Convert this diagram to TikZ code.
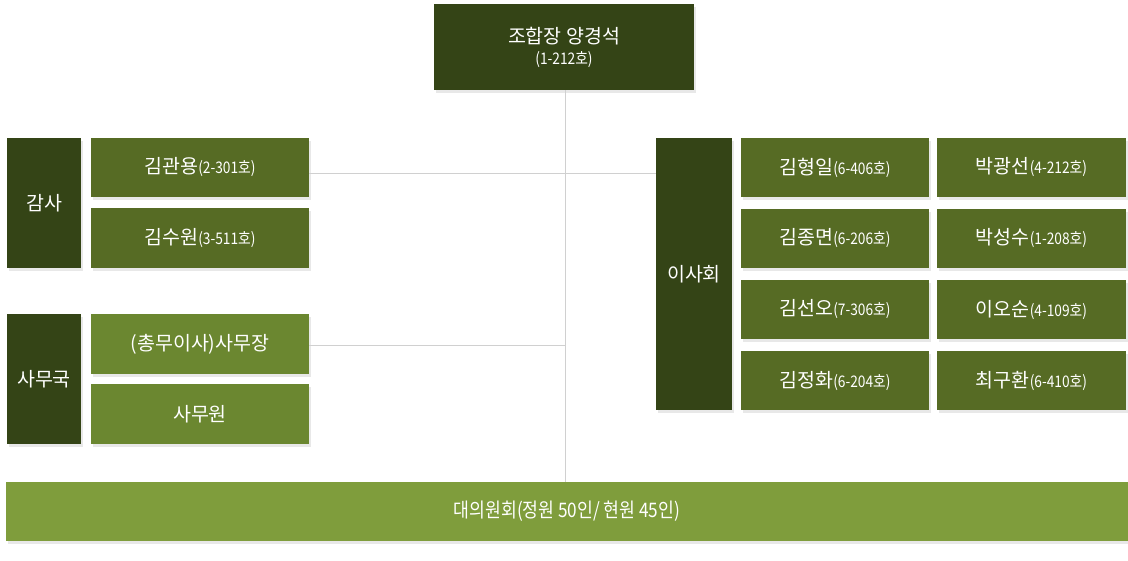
\documentclass[tikz,border=0pt]{standalone}
\usepackage{fontspec}
\setmainfont{Noto Sans CJK KR}
\newfontfamily\condfont[FakeStretch=0.86]{Noto Sans CJK KR}
\usetikzlibrary{shadows}
\definecolor{darkol}{HTML}{344416}
\definecolor{midol}{HTML}{566B24}
\definecolor{lightol}{HTML}{6B8730}
\definecolor{barol}{HTML}{7F9D3C}
\definecolor{linegray}{HTML}{D0D0D0}
\tikzset{
  bx/.style={rectangle, inner sep=0pt, text=white, font=\fontsize{19.5}{23}\selectfont,
    drop shadow={opacity=0.18, shadow xshift=2pt, shadow yshift=-3pt}, align=center},
  darkbox/.style={bx, fill=darkol},
  midbox/.style={bx, fill=midol},
  lightbox/.style={bx, fill=lightol},
  conn/.style={draw=linegray, line width=0.8pt},
}
\newcommand{\rn}[1]{{\condfont\fontsize{16}{18}\selectfont #1}}
\begin{document}
\begin{tikzpicture}[x=1pt,y=-1pt]
\useasboundingbox[fill=white] (0,0) rectangle (1128,560);
% top
\node[darkbox, minimum width=260pt, minimum height=86pt] (top) at (564,47)
  {조합장 양경석\\[-2pt]\rn{(1-212호)}};
% bottom bar
\node[bx, fill=barol, minimum width=1122pt, minimum height=59pt,
  font=\condfont\fontsize{20}{23}\selectfont] (bot) at (567,511.5)
  {대의원회(정원 50인/ 현원 45인)};
% left groups
\node[darkbox, minimum width=74pt, minimum height=130pt] (gamsa) at (44,203) {감사};
\node[midbox, minimum width=218pt, minimum height=59pt] (k1) at (200,167.5) {김관용\rn{(2-301호)}};
\node[midbox, minimum width=218pt, minimum height=60pt] (k2) at (200,238) {김수원\rn{(3-511호)}};
\node[darkbox, minimum width=74pt, minimum height=130pt] (samuguk) at (44,379) {사무국};
\node[lightbox, minimum width=218pt, minimum height=60pt] (s1) at (200,344) {(총무이사)사무장};
\node[lightbox, minimum width=218pt, minimum height=60pt] (s2) at (200,414) {사무원};
% right
\node[darkbox, minimum width=76pt, minimum height=272pt] (isa) at (694,274) {이사회};
\node[midbox, minimum width=188pt, minimum height=59pt] (r11) at (835,167.5) {김형일\rn{(6-406호)}};
\node[midbox, minimum width=189pt, minimum height=59pt] (r12) at (1031.5,167.5) {박광선\rn{(4-212호)}};
\node[midbox, minimum width=188pt, minimum height=59pt] (r21) at (835,238.5) {김종면\rn{(6-206호)}};
\node[midbox, minimum width=189pt, minimum height=59pt] (r22) at (1031.5,238.5) {박성수\rn{(1-208호)}};
\node[midbox, minimum width=188pt, minimum height=59pt] (r31) at (835,309.5) {김선오\rn{(7-306호)}};
\node[midbox, minimum width=189pt, minimum height=59pt] (r32) at (1031.5,309.5) {이오순\rn{(4-109호)}};
\node[midbox, minimum width=188pt, minimum height=59pt] (r41) at (835,380.5) {김정화\rn{(6-204호)}};
\node[midbox, minimum width=189pt, minimum height=59pt] (r42) at (1031.5,380.5) {최구환\rn{(6-410호)}};
% connectors
\coordinate (j1) at (565,173);
\coordinate (j2) at (565,345);
\draw[conn] (top.south -| j1) -- (bot.north -| j1);
\draw[conn] (j1 -| k1.east) -- (j1 -| isa.west);
\draw[conn] (j2 -| s1.east) -- (j2);
\end{tikzpicture}
\end{document}
